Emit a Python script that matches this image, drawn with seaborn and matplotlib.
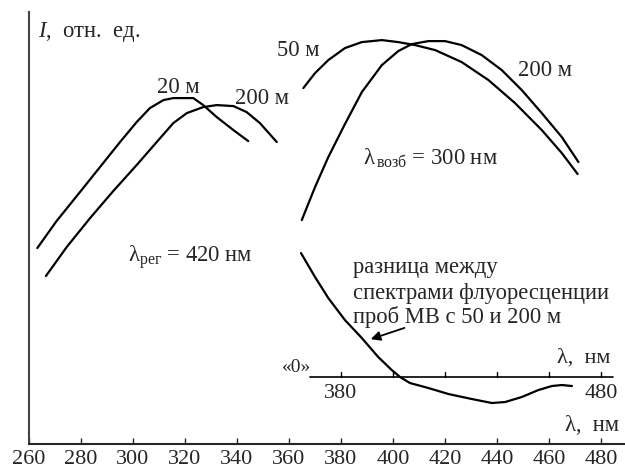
import matplotlib
matplotlib.use("Agg")
import matplotlib.pyplot as plt
import seaborn as sns
import pandas as pd

# excitation spectra (registration at 420 nm)
exc_wl_20 = [263.2, 270.6, 279.6, 287.3, 295.0, 301.4, 306.5, 311.7, 315.5, 323.2, 327.0, 332.2, 338.6, 344.3]
exc_I_20 = [196, 223, 252, 277, 302, 322, 336, 344, 346, 346, 339, 327, 314, 303]
exc_wl_200 = [266.5, 274.5, 283.5, 292.4, 301.4, 309.1, 315.5, 320.7, 327.0, 332.2, 338.6, 343.7, 348.8, 355.3]
exc_I_200 = [168, 197, 226, 253, 279, 302, 321, 331, 337, 339, 338, 332, 321, 302]

# fluorescence spectra (excitation at 300 nm)
em_wl_50 = [365.5, 370, 375.1, 381.5, 388.0, 395.7, 402.0, 408.5, 416.2, 426.4, 436.7, 446.9, 457.2, 464.9, 471.0]
em_I_50 = [356, 371, 384, 396, 402, 404, 402, 399, 394, 382, 364, 341, 314, 291, 270]
em_wl_200 = [364.9, 370, 375.1, 381.5, 388.0, 395.7, 402.0, 407.2, 413.6, 420.0, 426.4, 434.1, 441.8, 449.5, 457.2, 464.9, 471.3]
em_I_200 = [224, 257, 287, 320, 352, 379, 393, 400, 403, 403, 399, 389, 374, 354, 331, 307, 282]

# difference 50 m - 200 m, relative to its own zero line
diff_wl = [364.6, 370, 375.1, 381.5, 388.0, 394.3, 399.5, 402.7, 406.5, 413.6, 421.3, 430.3, 438.0, 443.1, 449.5, 455.9, 461.1, 464.9, 468.8]
diff_I = [124, 100, 79, 57, 39, 20, 7, 0, -6, -11, -17, -22, -26, -25, -20, -13, -9, -8, -9]
diff_zero = 67

x_ticks = [260, 280, 300, 320, 340, 360, 380, 400, 420, 440, 460, 480]
inset_ticks = [380, 400, 420, 440, 460, 480]
inset_labels = ["380", "", "", "", "", "480"]

sns.set_style("ticks")
plt.rcParams["font.family"] = ["Liberation Serif", "DejaVu Serif"]
plt.rcParams["mathtext.fontset"] = "custom"
plt.rcParams["mathtext.rm"] = "Liberation Serif"
plt.rcParams["mathtext.it"] = "Liberation Serif:italic"

fig = plt.figure(figsize=(6.25, 4.71), dpi=100)
ax = fig.add_axes([0.0464, 0.0573, 0.9536, 0.917])

lw = 1.6
curves = [
    (exc_wl_20, exc_I_20),
    (exc_wl_200, exc_I_200),
    (em_wl_50, em_I_50),
    (em_wl_200, em_I_200),
    (diff_wl, [v + diff_zero for v in diff_I]),
]
for wl, val in curves:
    d = pd.DataFrame({"wl": wl, "I": val})
    sns.lineplot(data=d, x="wl", y="I", ax=ax, color="black", lw=lw,
                 sort=False, estimator=None)

# zero line of the difference curve with its own ticks
ax.plot([368, 484.6], [diff_zero, diff_zero], color="black", lw=1.2)
for t, lab in zip(inset_ticks, inset_labels):
    ax.plot([t, t], [diff_zero, diff_zero + 5], color="black", lw=1.0)
    if lab:
        ax.text(t, diff_zero - 16, lab, ha="center", va="center", fontsize=16)
ax.text(362.7, diff_zero + 10, "«0»", ha="center", va="center", fontsize=14)
ax.text(463, diff_zero + 19, "λ,  нм", ha="left", va="center", fontsize=16)

fs = 16.3
ax.text(263.5, 412, r"$I$,  отн.  ед.", ha="left", va="center", fontsize=fs)
ax.text(317.3, 357, "20 м", ha="center", va="center", fontsize=fs)
ax.text(349.6, 346, "200 м", ha="center", va="center", fontsize=fs)
ax.text(298, 187, r"λ$_{\mathrm{рег}}$ = 420 нм", ha="left", va="center", fontsize=fs)
ax.text(355.4, 394, "50 м", ha="left", va="center", fontsize=fs)
ax.text(448, 374, "200 м", ha="left", va="center", fontsize=fs)
ax.text(388.5, 286, r"λ$_{\,\mathrm{возб}}$ = 300 нм", ha="left", va="center", fontsize=fs)
ax.text(384.7, 177, "разница между", ha="left", va="center", fontsize=fs)
ax.text(384.7, 151, "спектрами флуоресценции", ha="left", va="center", fontsize=fs)
ax.text(384.7, 127, "проб МВ с 50 и 200 м", ha="left", va="center", fontsize=fs)
ax.annotate("", xy=(390.4, 104), xytext=(405.4, 117),
            arrowprops=dict(arrowstyle="-|>", color="black", lw=1.3, mutation_scale=14))
ax.text(466, 19, "λ,  нм", ha="left", va="center", fontsize=fs)

ax.set_xlim(260, 489.2)
ax.set_ylim(0, 432)
ax.set_xticks(x_ticks)
ax.set_xticklabels([str(t) for t in x_ticks], fontsize=16)
ax.set_yticks([])
ax.set_xlabel("")
ax.set_ylabel("")
ax.tick_params(axis="x", direction="in", length=4, width=1.0, pad=4)
for s in ["top", "right"]:
    ax.spines[s].set_visible(False)
ax.spines["left"].set_linewidth(1.5)
ax.spines["bottom"].set_linewidth(1.5)
ax.spines["left"].set_color("#444444")

fig.savefig("out.png", dpi=100)
